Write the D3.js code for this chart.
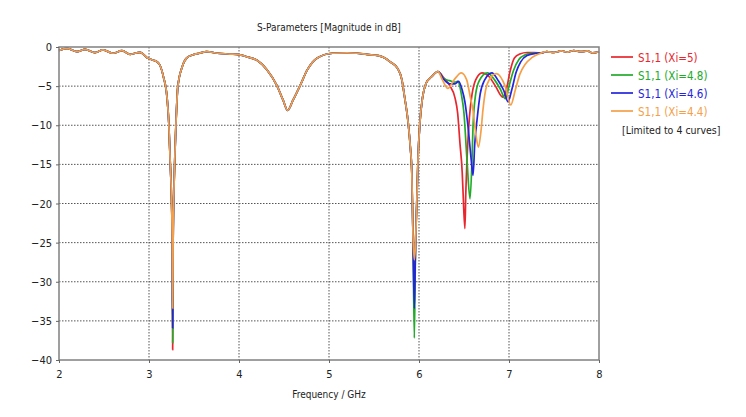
<!DOCTYPE html>
<html>
<head>
<meta charset="utf-8">
<script src="https://cdn.jsdelivr.net/npm/d3@7"></script>
<style>
  body { margin: 0; background: #fff; }
  text { font-family: "Liberation Sans Narrow", "DejaVu Sans Condensed", sans-serif; font-size: 11px; }
</style>
</head>
<body>
<div id="chart"></div>
<script>
// series (drawn in this order, last on top)
const seriesNames = ['S1,1 (Xi=5)', 'S1,1 (Xi=4.8)', 'S1,1 (Xi=4.6)', 'S1,1 (Xi=4.4)'];
const seriesColors = ['#e8262e', '#22aa2a', '#2424dc', '#f5a049'];

// shared part 2 .. 3.26 GHz
const headFreq = [2.00, 2.09, 2.20, 2.29, 2.40, 2.49, 2.60, 2.70, 2.79, 2.90, 2.99, 3.05, 3.09, 3.12, 3.16, 3.20, 3.22, 3.235, 3.25, 3.258];
const headDb = [-0.45, -0.17, -0.6, -0.3, -0.73, -0.38, -0.8, -0.47, -0.93, -0.68, -1.45, -1.7, -1.9, -2.3, -3.8, -6.4, -9.7, -14.5, -19.5, -25];

// first resonance minimum, per series
const dip1Freq = 3.263;
const dip1Min = [-38.7, -37.8, -35.9, -33.4];

// shared part 3.27 .. 5.93 GHz
const midFreq = [3.268, 3.28, 3.29, 3.30, 3.32, 3.37, 3.42, 3.49, 3.56, 3.64, 3.76, 3.90, 4.01, 4.10, 4.20, 4.31, 4.42, 4.49, 4.54, 4.60, 4.68, 4.76, 4.87, 5.04, 5.20, 5.31, 5.42, 5.55, 5.62, 5.68, 5.76, 5.81, 5.84, 5.88, 5.905, 5.92, 5.933];
const midDb = [-25, -17, -13, -9.7, -5.1, -2.5, -1.4, -1.0, -0.8, -0.6, -0.8, -0.9, -1.0, -1.3, -1.7, -2.9, -4.9, -6.8, -8.1, -6.8, -4.9, -2.9, -1.4, -0.8, -0.75, -0.8, -0.95, -1.1, -1.4, -1.9, -2.7, -4.2, -6.4, -9.7, -13, -16, -24];

// second resonance minimum, per series
const dip2Freq = 5.948;
const dip2Min = [-30.8, -37.2, -33.4, -27.2];

// shared part 5.96 .. 6.21 GHz
const riseFreq = [5.962, 5.975, 5.99, 6.01, 6.04, 6.08, 6.14, 6.21];
const riseDb = [-25, -20, -14, -9.7, -6.4, -4.6, -3.8, -3.15];

// diverging part, per series
const tailFreq = [
  [6.28, 6.34, 6.40, 6.43, 6.455, 6.48, 6.49, 6.51, 6.52, 6.535, 6.56, 6.59, 6.63, 6.70, 6.78, 6.85, 6.93, 6.97, 7.01, 7.06, 7.12, 7.20],
  [6.28, 6.34, 6.40, 6.43, 6.47, 6.50, 6.533, 6.567, 6.589, 6.60, 6.63, 6.67, 6.76, 6.84, 6.90, 6.96, 7.00, 7.05, 7.11, 7.18, 7.25],
  [6.28, 6.34, 6.40, 6.44, 6.48, 6.51, 6.545, 6.58, 6.60, 6.62, 6.645, 6.68, 6.73, 6.81, 6.88, 6.94, 6.99, 7.03, 7.08, 7.13, 7.20, 7.30],
  [6.26, 6.32, 6.39, 6.47, 6.53, 6.57, 6.60, 6.63, 6.66, 6.69, 6.71, 6.74, 6.78, 6.86, 6.96, 7.02, 7.07, 7.12, 7.18, 7.25, 7.33]
];
const tailDb = [
  [-4.0, -4.9, -6.5, -8.5, -12.3, -16, -18.7, -23.2, -18.7, -14, -9, -6, -4.2, -3.3, -3.8, -5.0, -6.4, -5.5, -3.2, -1.4, -0.9, -0.7],
  [-4.1, -4.3, -4.5, -4.4, -6.0, -8.5, -14.4, -19.4, -14.4, -10.2, -6.0, -4.3, -3.3, -4.2, -5.3, -6.6, -5.0, -3.0, -1.6, -1.0, -0.8],
  [-4.2, -4.7, -4.7, -4.4, -5.5, -7.0, -10.2, -14.4, -16.4, -12.3, -9.3, -6.0, -4.2, -3.3, -4.3, -5.5, -7.0, -5.5, -3.2, -1.9, -1.1, -0.8],
  [-4.2, -5.3, -4.2, -3.3, -4.2, -6.4, -8.1, -11.0, -12.8, -10.6, -8.1, -5.5, -4.2, -3.4, -5.1, -7.4, -5.5, -3.5, -2.2, -1.4, -0.9]
];

// shared part 7.35 .. 8 GHz
const endFreq = [7.36, 7.42, 7.50, 7.58, 7.65, 7.72, 7.80, 7.87, 7.93, 8.00];
const endDb = [-0.75, -0.6, -0.7, -0.5, -0.65, -0.45, -0.6, -0.5, -0.75, -0.6];

const xTicks = [2, 3, 4, 5, 6, 7, 8];
const yTicks = [0, -5, -10, -15, -20, -25, -30, -35, -40];

const width = 746, height = 417;
const margin = { top: 47, right: 147, bottom: 57, left: 59 };
const pw = width - margin.left - margin.right;
const ph = height - margin.top - margin.bottom;

const zip = (fs, ds) => fs.map((f, i) => ({ f: f, db: ds[i] }));

const series = seriesNames.map((name, i) => ({
  name: name,
  color: seriesColors[i],
  points: [].concat(
    zip(headFreq, headDb),
    [{ f: dip1Freq, db: dip1Min[i] }],
    zip(midFreq, midDb),
    [{ f: dip2Freq, db: dip2Min[i] }],
    zip(riseFreq, riseDb),
    zip(tailFreq[i], tailDb[i]),
    zip(endFreq, endDb)
  )
}));

const svg = d3.select('#chart').append('svg')
  .attr('width', width)
  .attr('height', height);

const x = d3.scaleLinear().domain([2, 8]).range([margin.left, margin.left + pw]);
const y = d3.scaleLinear().domain([-40, 0]).range([margin.top + ph, margin.top]);

// title
svg.append('text')
  .attr('x', 329).attr('y', 31)
  .attr('text-anchor', 'middle')
  .attr('fill', '#222')
  .style('font-size', '10px')
  .text('S-Parameters [Magnitude in dB]');

// grid
const grid = svg.append('g')
  .attr('stroke', '#555')
  .attr('stroke-width', 1)
  .attr('stroke-dasharray', '1.5,1.5');
grid.selectAll('line.v').data(xTicks.slice(1, -1)).enter().append('line')
  .attr('x1', d => x(d)).attr('x2', d => x(d))
  .attr('y1', margin.top).attr('y2', margin.top + ph);
grid.selectAll('line.h').data(yTicks.slice(1, -1)).enter().append('line')
  .attr('y1', d => y(d)).attr('y2', d => y(d))
  .attr('x1', margin.left).attr('x2', margin.left + pw);

// curves
const line = d3.line()
  .x(d => x(d.f))
  .y(d => y(d.db))
  .curve(d3.curveMonotoneX);

svg.append('g').selectAll('path').data(series).enter().append('path')
  .attr('d', d => line(d.points))
  .attr('fill', 'none')
  .attr('stroke', d => d.color)
  .attr('stroke-width', 1.7)
  .attr('stroke-linejoin', 'round');

// frame
svg.append('rect')
  .attr('x', margin.left).attr('y', margin.top)
  .attr('width', pw).attr('height', ph)
  .attr('fill', 'none')
  .attr('stroke', '#808080')
  .attr('stroke-width', 1.5);

// axes
const xAxis = svg.append('g')
  .attr('transform', `translate(0,${margin.top + ph})`)
  .call(d3.axisBottom(x).tickValues(xTicks).tickSize(3).tickPadding(7).tickFormat(d3.format('d')));
const yAxis = svg.append('g')
  .attr('transform', `translate(${margin.left},0)`)
  .call(d3.axisLeft(y).tickValues(yTicks).tickSize(3).tickPadding(4).tickFormat(d3.format('d')));

[xAxis, yAxis].forEach(a => {
  a.select('.domain').remove();
  a.selectAll('.tick line').attr('stroke', '#666');
  a.selectAll('.tick text')
    .attr('fill', '#222')
    .style('font-family', '"Liberation Sans Narrow", "DejaVu Sans Condensed", sans-serif')
    .style('font-size', '11px');
});

svg.append('text')
  .attr('x', 329).attr('y', 398)
  .attr('text-anchor', 'middle')
  .attr('fill', '#222')
  .style('font-size', '10px')
  .text('Frequency / GHz');

// legend
const legend = svg.append('g');
const rows = legend.selectAll('g').data(series).enter().append('g')
  .attr('transform', (d, i) => `translate(611,${57 + i * 18})`);
rows.append('line')
  .attr('x1', 0).attr('x2', 22)
  .attr('stroke', d => d.color)
  .attr('stroke-width', 1.7);
rows.append('text')
  .attr('x', 27).attr('y', 1)
  .attr('dy', '0.35em')
  .attr('fill', d => d.color)
  .style('font-size', '11.5px')
  .text(d => d.name);
legend.append('text')
  .attr('x', 622).attr('y', 130)
  .attr('dy', '0.35em')
  .attr('fill', '#222')
  .style('font-size', '10.5px')
  .text('[Limited to 4 curves]');
</script>
</body>
</html>
